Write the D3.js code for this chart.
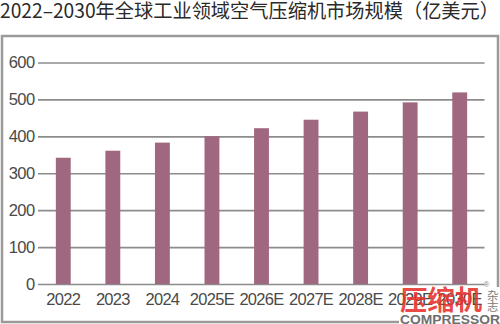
<!DOCTYPE html>
<html>
<head>
<meta charset="utf-8">
<script src="https://cdn.jsdelivr.net/npm/d3@7"></script>
<style>
  html, body { margin: 0; padding: 0; background: #fff; }
  svg { display: block; }
</style>
</head>
<body>
<svg id="chart" width="500" height="324"></svg>
<script>
// Market size of industrial air compressors worldwide, 100 million USD
const years = ["2022", "2023", "2024", "2025E", "2026E", "2027E", "2028E", "2029E", "2030E"];
const marketSize = [342, 361, 383, 400, 422, 445, 467, 492, 519];
const yTicks = [0, 100, 200, 300, 400, 500, 600];
const titleText = "2022–2030年全球工业领域空气压缩机市场规模（亿美元）";

const svg = d3.select("#chart");
const numFont = "'Liberation Sans', Arial, sans-serif";
const cjkFont = "'Noto Sans CJK SC', sans-serif";

// Title
svg.append("text")
  .attr("x", 0).attr("y", 17.5)
  .attr("textLength", 499).attr("lengthAdjust", "spacingAndGlyphs")
  .attr("font-family", cjkFont).attr("font-size", 19.5)
  .attr("fill", "#2a2a2a")
  .text(titleText);

// Frame around the plot
svg.append("rect")
  .attr("x", 2).attr("y", 36).attr("width", 496).attr("height", 286)
  .attr("fill", "none").attr("stroke", "#9a9a9a").attr("stroke-width", 2.5);

const x = d3.scaleBand().domain(years).range([38.5, 484.5])
  .paddingInner(0.7).paddingOuter(0.35);
const y = d3.scaleLinear().domain([0, 600]).range([284, 62.5]);

// Horizontal grid with value labels
const yAxis = d3.axisLeft(y).tickValues(yTicks).tickSize(-(484.5 - 38)).tickPadding(4);
const gy = svg.append("g").attr("transform", "translate(38,0)").call(yAxis);
gy.select(".domain").remove();
gy.selectAll(".tick line").attr("stroke", "#8c8c8c").attr("stroke-width", 1.6);
gy.selectAll(".tick text")
  .attr("font-family", numFont).attr("font-size", 16.5)
  .attr("fill", "#4a4a4a").attr("letter-spacing", -0.6)
  .attr("x", -3.5);

// Bars
svg.append("g").selectAll("rect").data(marketSize).join("rect")
  .attr("x", (d, i) => x(years[i]))
  .attr("width", x.bandwidth())
  .attr("y", d => y(d))
  .attr("height", d => y(0) - y(d))
  .attr("fill", "#9f6780");

// Category labels
const xAxis = d3.axisBottom(x).tickSize(0).tickPadding(0);
const gx = svg.append("g").attr("transform", "translate(0,293)").call(xAxis);
gx.select(".domain").remove();
gx.selectAll(".tick text")
  .attr("font-family", numFont).attr("font-size", 16.5)
  .attr("fill", "#4a4a4a").attr("letter-spacing", -0.7)
  .attr("dy", "0.71em");

// Publisher mark
const mark = svg.append("g");
mark.append("rect").attr("x", 399).attr("y", 313).attr("width", 101).attr("height", 11).attr("fill", "#fff");
mark.append("rect").attr("x", 485).attr("y", 287).attr("width", 15).attr("height", 27).attr("fill", "#fff");
mark.append("text")
  .attr("x", 400).attr("y", 310)
  .attr("textLength", 82).attr("lengthAdjust", "spacingAndGlyphs")
  .attr("font-family", cjkFont).attr("font-weight", 700).attr("font-size", 27)
  .attr("fill", "#e8312c").attr("fill-opacity", 0.9)
  .text("压缩机");
mark.append("text")
  .attr("x", 400).attr("y", 323.5)
  .attr("textLength", 100).attr("lengthAdjust", "spacingAndGlyphs")
  .attr("font-family", numFont).attr("font-weight", 700).attr("font-size", 13)
  .attr("fill", "#6e6e6e")
  .text("COMPRESSOR");
mark.append("text").attr("x", 487).attr("y", 299.5)
  .attr("font-family", cjkFont).attr("font-size", 11.5).attr("fill", "#7a7a7a").text("杂");
mark.append("text").attr("x", 487).attr("y", 310.5)
  .attr("font-family", cjkFont).attr("font-size", 11.5).attr("fill", "#7a7a7a").text("志");
mark.append("text").attr("x", 483.5).attr("y", 287)
  .attr("font-family", numFont).attr("font-size", 8).attr("fill", "#888").text("®");
</script>
</body>
</html>
